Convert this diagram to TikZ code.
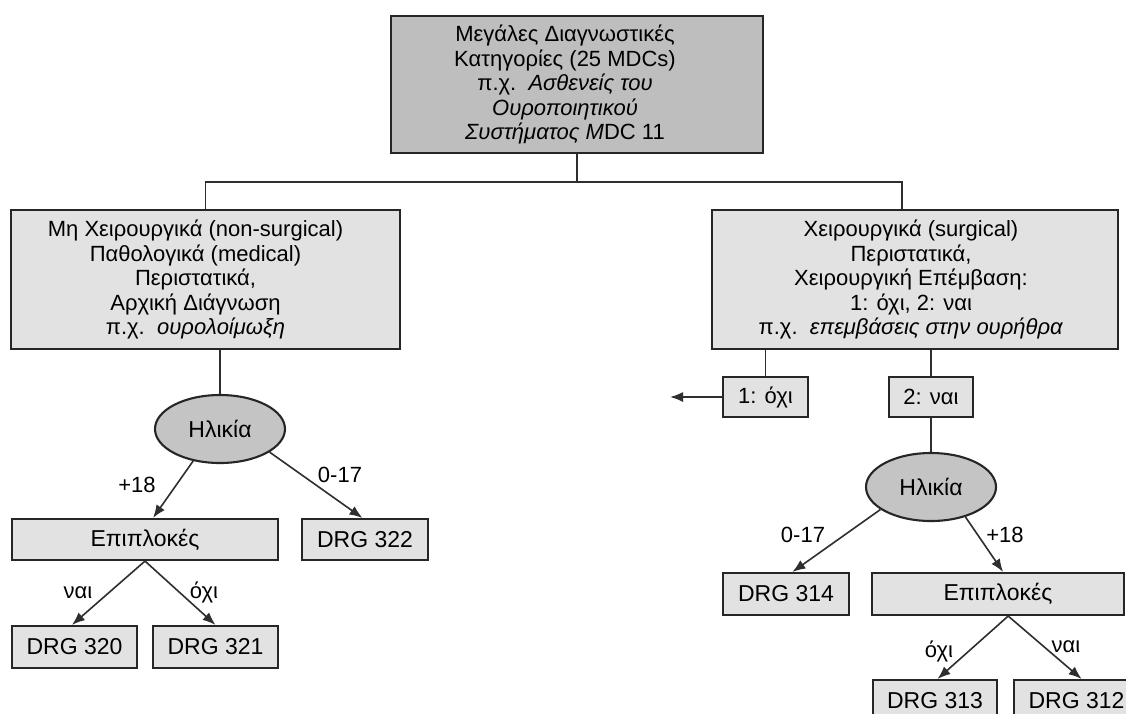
\documentclass[tikz,border=0pt]{standalone}
\usepackage{fontspec}
\setmainfont{Liberation Sans}
\usetikzlibrary{arrows.meta,calc,shapes.geometric}
\definecolor{topgray}{HTML}{BEBEBE}
\definecolor{lightbox}{HTML}{E2E2E2}
\definecolor{ellgray}{HTML}{C4C4C4}
\definecolor{edge}{HTML}{262626}
\definecolor{linec}{HTML}{2E2E2E}
\begin{document}
\begin{tikzpicture}[x=1pt,y=-1pt,
  box/.style={draw=edge, line width=2.1pt, fill=lightbox, inner sep=0pt, align=center,
              font=\fontsize{22}{24.5}\selectfont},
  txt/.style={inner sep=0pt, align=center, font=\fontsize{22}{24.5}\selectfont},
  drg/.style={box, font=\fontsize{23}{26}\selectfont},
  ell/.style={ellipse, draw=edge, line width=2.1pt, fill=ellgray, inner sep=0pt,
              minimum width=130pt, minimum height=68pt, font=\fontsize{23}{26}\selectfont},
  conn/.style={draw=linec, line width=1.6pt},
  arr/.style={conn, -{Latex[length=13pt,width=10pt]}},
  lbl/.style={anchor=base, inner sep=0pt, font=\fontsize{22}{24}\selectfont}
]
\useasboundingbox (0,0) rectangle (1126,713);
\clip (0,0) rectangle (1126,713);
\fill[white] (0,0) rectangle (1126,713);

% main boxes
\node[box, fill=topgray, minimum width=372pt, minimum height=137pt] (T) at (577,84.5) {};
\node[txt] (Tt) at ($(T.center)+(-12,0)$)
  {Μεγάλες Διαγνωστικές\\ Κατηγορίες (25 MDCs)\\ π.χ.\ \ \textit{Ασθενείς του}\\ \textit{Ουροποιητικού}\\ \textit{Συστήματος M}DC 11};
\node[box, minimum width=389pt, minimum height=139pt] (L) at (205.5,279.5) {};
\node[txt] (Lt) at ($(L.center)+(-10,0)$)
  {Μη Χειρουργικά (non-surgical)\\ Παθολογικά (medical)\\ Περιστατικά,\\ Αρχική Διάγνωση\\ π.χ.\ \ \textit{ουρολοίμωξη}};
\node[box, minimum width=406pt, minimum height=139pt] (R) at (915,279.5) {};
\node[txt] (Rt) at ($(R.center)+(-4,0)$)
  {Χειρουργικά (surgical)\\ Περιστατικά,\\ Χειρουργική Επέμβαση:\\ 1: όχι, 2: ναι\\ π.χ.\ \ \textit{επεμβάσεις στην ουρήθρα}};

% left branch
\node[ell] (E1) at (220,429) {Ηλικία};
\node[drg, minimum width=266pt, minimum height=41pt] (EL) at (145,539.5) {Επιπλοκές};
\node[drg, minimum width=126pt, minimum height=41pt] (D322) at (365,539.5) {DRG 322};
\node[drg, minimum width=125pt, minimum height=42pt] (D320) at (74.5,647) {DRG 320};
\node[drg, minimum width=125pt, minimum height=42pt] (D321) at (215.5,647) {DRG 321};

% right branch
\node[box, minimum width=85pt, minimum height=40pt] (B1) at (765.5,397) {1: όχι};
\node[box, minimum width=84pt, minimum height=40pt] (B2) at (931,397) {2: ναι};
\node[ell] (E2) at (931,487) {Ηλικία};
\node[drg, minimum width=126pt, minimum height=42pt] (D314) at (786,594) {DRG 314};
\node[drg, minimum width=252pt, minimum height=42pt] (ER) at (998,594) {Επιπλοκές};
\node[drg, minimum width=124pt, minimum height=42pt] (D313) at (935,701) {DRG 313};
\node[drg, minimum width=125pt, minimum height=42pt] (D312) at (1076.5,701) {DRG 312};

% tree connectors
\coordinate (J) at (577,182);
\draw[conn] (T.south) -- (J);
\draw[conn] (L.north) |- (J);
\draw[conn] (J) -| ($(R.north west)!0.468!(R.north east)$);
\draw[conn] (L.south -| E1.north) -- (E1.north);
\draw[conn] (B1.north |- R.south) -- (B1.north);
\draw[conn] (B2.north |- R.south) -- (B2.north);
\draw[conn] (B2.south) -- (E2.north);
\coordinate (leftout) at (670,397);
\draw[arr] (B1.west) -- (leftout);

% arrows left
\draw[arr] (E1.230) -- ($(EL.north west)!0.53!(EL.north east)$);
\draw[arr] (E1.335) -- ($(D322.north west)!0.48!(D322.north east)$);
\draw[arr] (EL.south) -- ($(D320.north west)!0.48!(D320.north east)$);
\draw[arr] (EL.south) -- (D321.north);
% arrows right
\draw[arr] (E2.204) -- ($(D314.north west)!0.55!(D314.north east)$);
\draw[arr] (E2.319) -- ($(ER.north west)!0.52!(ER.north east)$);
\draw[arr] ($(ER.south west)!0.54!(ER.south east)$) -- ($(D313.north west)!0.52!(D313.north east)$);
\draw[arr] ($(ER.south west)!0.54!(ER.south east)$) -- ($(D312.north west)!0.54!(D312.north east)$);

% labels
\node[lbl] (l1) at (137,492) {+18};
\node[lbl] (l2) at (340,482) {0-17};
\node[lbl] (l3) at (78,598) {ναι};
\node[lbl] (l4) at (204,598) {όχι};
\node[lbl] (l5) at (803,542) {0-17};
\node[lbl] (l6) at (1005,542) {+18};
\node[lbl] (l7) at (939,657) {όχι};
\node[lbl] (l8) at (1066,652) {ναι};
\end{tikzpicture}
\end{document}
